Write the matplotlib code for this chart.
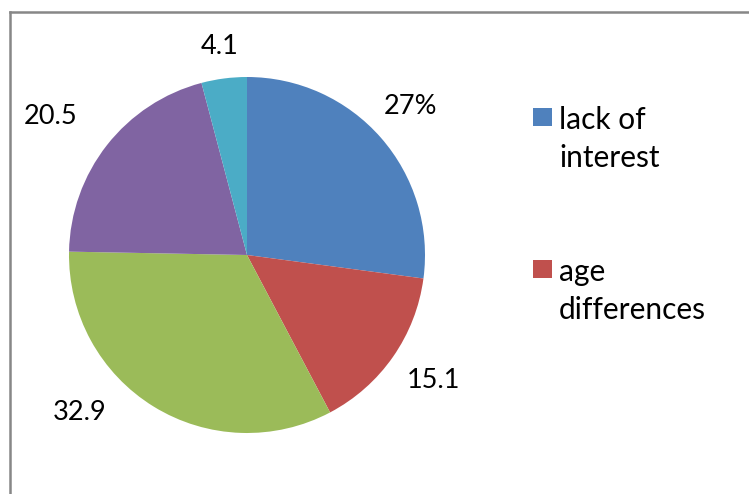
import numpy as np
import matplotlib.pyplot as plt
from matplotlib.lines import Line2D

plt.rcParams['font.family'] = ['Lato', 'DejaVu Sans']

# slice values, clockwise from 12 o'clock
values = [27, 15.1, 32.9, 20.5, 4.1]
value_labels = ['27%', '15.1', '32.9', '20.5', '4.1']
legend_names = ['lack of\ninterest', 'age\ndifferences']
colors = ['#4F81BD', '#C0504D', '#9BBB59', '#8064A2', '#4BACC6']

# label placement: radius factor and angle nudge (degrees) per slice
label_dist = [1.24, 1.26, 1.29, 1.35, 1.18]
label_nudge = [1, 1, -15, 3, 0]

W, H = 749, 494
fig = plt.figure(figsize=(W / 100, H / 100), dpi=100)

cx, cy, r = 247, 255, 178
ax = fig.add_axes([(cx - r) / W, (H - cy - r) / H, 2 * r / W, 2 * r / H])
wedges, _ = ax.pie(values, colors=colors, startangle=90, counterclock=False,
                   radius=1, wedgeprops=dict(linewidth=0))
ax.set_xlim(-1, 1)
ax.set_ylim(-1, 1)
ax.set_aspect('equal')
ax.axis('off')

for w, lab, d, nudge in zip(wedges, value_labels, label_dist, label_nudge):
    ang = np.deg2rad((w.theta1 + w.theta2) / 2 + nudge)
    ax.text(d * np.cos(ang), d * np.sin(ang), lab, ha='center', va='center',
            fontsize=19.5, color='#000000', clip_on=False)

# chart frame (only left and top edges fall inside the image)
frame = '#878787'
fig.add_artist(Line2D([10 / W, 10 / W], [0, 1 - 12 / H], transform=fig.transFigure,
                      color=frame, linewidth=1.8))
fig.add_artist(Line2D([10 / W, 1], [1 - 12 / H, 1 - 12 / H], transform=fig.transFigure,
                      color=frame, linewidth=1.8))

# legend, first two entries only
ly = [117, 269]
for name, col, y in zip(legend_names, colors[:2], ly):
    fig.add_artist(plt.Rectangle((533 / W, 1 - (y + 9) / H), 19 / W, 18 / H,
                                 transform=fig.transFigure, facecolor=col, edgecolor='none'))
    fig.text(559 / W, 1 - (y - 11) / H, name, ha='left', va='top',
             fontsize=21.5, linespacing=1.42)

fig.savefig('out.png', dpi=100, facecolor='white')
